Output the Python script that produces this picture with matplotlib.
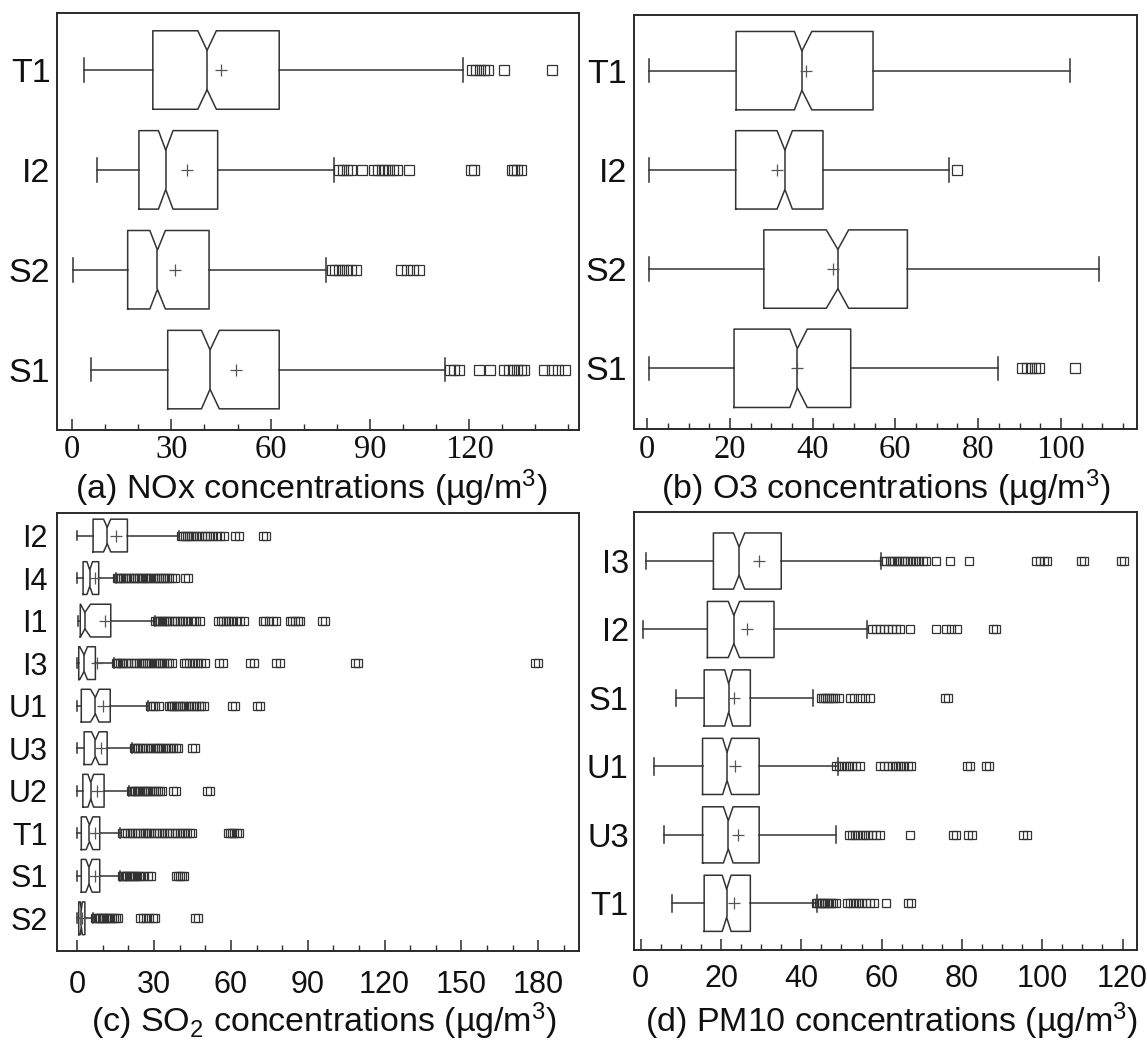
import matplotlib
matplotlib.use('Agg')
import matplotlib.pyplot as plt
from matplotlib.ticker import MultipleLocator

plt.rcParams['font.family'] = ['Liberation Sans', 'DejaVu Sans']
plt.rcParams['mathtext.fontset'] = 'custom'
plt.rcParams['mathtext.rm'] = 'Liberation Sans'
plt.rcParams['mathtext.it'] = 'Liberation Sans:italic'
plt.rcParams['mathtext.bf'] = 'Liberation Sans:bold'

# ---------------- (a) NOx ----------------
nox_sites = ['T1', 'I2', 'S2', 'S1']
nox_whislo = [3.5, 7.5, 0.3, 5.7]
nox_q1 = [24.4, 20.2, 16.8, 28.9]
nox_med = [40.8, 28.3, 25.8, 41.7]
nox_cilo = [38.0, 26.1, 23.5, 39.1]
nox_cihi = [43.6, 30.5, 28.2, 44.5]
nox_q3 = [62.6, 44.0, 41.4, 62.6]
nox_mean = [45.1, 34.7, 31.0, 49.6]
nox_whishi = [118.0, 79.2, 76.8, 112.8]
nox_fliers = [
    [121.0, 122.2, 123.4, 124.6, 125.7, 130.5, 145.1],
    [80.8, 82.0, 83.2, 84.2, 87.6, 91.4, 92.5, 93.6, 94.7, 95.8, 97.0, 98.2, 101.8,
     120.6, 121.6, 132.9, 133.6, 134.4, 135.6],
    [78.5, 79.6, 80.8, 82.0, 83.2, 84.4, 85.9, 99.5, 101.2, 103.0, 104.8],
    [114.1, 115.3, 116.9, 123.0, 126.4, 130.5, 132.0, 133.3, 134.5, 135.7, 136.5,
     142.6, 145.2, 147.0, 149.1],
]

# ---------------- (b) O3 ----------------
o3_sites = ['T1', 'I2', 'S2', 'S1']
o3_whislo = [0.35, 0.35, 0.35, 0.35]
o3_q1 = [21.5, 21.4, 28.2, 21.0]
o3_med = [37.4, 33.3, 46.1, 36.3]
o3_cilo = [35.6, 31.4, 43.3, 34.5]
o3_cihi = [39.8, 35.1, 48.7, 38.7]
o3_q3 = [54.6, 42.5, 62.9, 49.2]
o3_mean = [38.4, 31.3, 44.8, 36.3]
o3_whishi = [102.2, 73.0, 109.1, 84.9]
o3_fliers = [
    [],
    [74.9],
    [],
    [90.7, 91.8, 92.8, 93.8, 94.8, 103.3],
]

# ---------------- (c) SO2 ----------------
so2_sites = ['I2', 'I4', 'I1', 'I3', 'U1', 'U3', 'U2', 'T1', 'S1', 'S2']
so2_whislo = [0.0, 0.0, 0.4, 0.0, 0.0, 0.0, 0.0, 0.0, 0.0, 0.0]
so2_q1 = [6.2, 2.3, 1.2, 0.6, 1.6, 2.7, 2.2, 1.6, 1.6, 0.6]
so2_med = [11.7, 4.9, 3.0, 2.7, 7.1, 7.1, 5.3, 4.8, 4.6, 1.6]
so2_cilo = [10.3, 3.8, 1.3, 1.0, 5.2, 5.6, 4.2, 3.5, 3.4, 1.2]
so2_cihi = [13.1, 6.0, 5.2, 4.0, 8.5, 8.5, 6.4, 6.1, 5.8, 2.0]
so2_q3 = [19.6, 8.4, 13.1, 7.1, 12.9, 11.7, 10.5, 8.8, 8.8, 3.0]
so2_mean = [15.0, 7.1, 11.0, 7.6, 10.0, 9.1, 7.7, 6.9, 6.9, 1.8]
so2_whishi = [39.6, 15.0, 30.2, 14.3, 27.6, 21.4, 20.4, 16.8, 16.8, 6.2]
so2_fliers = [
    [40.5, 41.2, 42.0, 42.8, 43.5, 44.5, 45.3, 46.5, 47.5, 48.6, 49.8, 50.8, 52.0,
     53.2, 54.5, 55.6, 57.5, 61.6, 63.0, 72.4, 73.8],
    [15.5, 16.0, 16.6, 17.2, 17.8, 18.5, 19.5, 20.2, 21.0, 22.0, 22.6, 23.3, 24.0,
     24.8, 25.5, 26.3, 27.0, 27.8, 28.6, 29.5, 30.2, 31.0, 32.0, 32.7, 33.5, 34.3,
     35.0, 36.0, 37.0, 38.0, 42.2, 43.3],
    [30.5, 31.0, 31.6, 32.2, 33.0, 33.8, 34.5, 35.2, 36.0, 37.0, 38.0, 39.0, 40.0,
     41.0, 42.0, 43.0, 44.5, 45.5, 46.5, 48.0, 55.0, 56.0, 57.0, 58.0, 59.0, 60.0,
     61.0, 62.5, 63.5, 65.0, 72.5, 73.5, 75.0, 76.5, 77.5, 83.0, 84.0, 85.0, 86.0,
     87.0, 95.5, 96.8],
    [15.0, 15.5, 16.0, 16.7, 17.3, 18.0, 19.0, 20.0, 21.0, 22.0, 23.0, 24.0, 25.0,
     25.8, 26.6, 27.4, 28.2, 29.0, 29.8, 30.6, 31.4, 32.2, 33.0, 34.0, 35.0, 36.0,
     37.0, 41.5, 42.5, 43.5, 45.0, 46.0, 47.0, 48.5, 50.0, 55.5, 56.8, 67.6, 68.9,
     77.7, 79.0, 108.5, 109.8, 178.6, 179.9],
    [28.5, 29.5, 30.5, 32.0, 36.0, 36.6, 37.2, 37.8, 38.5, 39.2, 40.0, 40.8, 41.5,
     42.5, 43.5, 44.5, 45.5, 46.5, 47.5, 48.5, 49.5, 60.4, 61.7, 70.0, 71.3],
    [22.0, 22.6, 23.2, 23.8, 24.5, 25.5, 26.5, 27.5, 28.5, 29.5, 30.3, 31.0, 31.8,
     32.6, 33.5, 34.5, 35.5, 36.5, 37.5, 38.5, 39.5, 44.7, 46.0],
    [21.0, 21.5, 22.0, 22.6, 23.2, 23.8, 24.5, 25.2, 26.0, 26.6, 27.2, 27.8, 28.5,
     29.2, 30.0, 30.8, 31.5, 32.3, 33.0, 37.3, 38.6, 50.5, 51.8],
    [17.5, 18.5, 19.5, 20.5, 21.5, 22.5, 23.5, 24.5, 25.5, 26.5, 27.3, 28.0, 29.0,
     30.0, 31.0, 32.0, 33.0, 34.0, 35.0, 36.0, 37.0, 38.0, 39.0, 40.0, 41.0, 42.0,
     43.0, 44.0, 45.0, 59.0, 59.8, 60.6, 61.4, 62.2, 63.0],
    [17.5, 18.0, 18.5, 19.0, 19.6, 20.2, 20.8, 21.4, 22.0, 22.6, 23.2, 24.0, 25.0,
     26.0, 27.5, 29.0, 38.5, 39.2, 40.0, 40.8, 41.6],
    [7.0, 7.5, 8.0, 8.5, 9.0, 9.5, 10.0, 10.6, 11.2, 11.8, 12.4, 13.0, 13.6, 14.3,
     15.0, 15.8, 24.5, 25.5, 27.0, 28.0, 29.5, 30.5, 46.0, 47.3],
]

# ---------------- (d) PM10 ----------------
pm_sites = ['I3', 'I2', 'S1', 'U1', 'U3', 'T1']
pm_whislo = [1.3, 0.6, 8.9, 3.2, 5.9, 7.8]
pm_q1 = [18.1, 16.6, 15.8, 15.4, 15.4, 15.8]
pm_med = [24.5, 23.2, 21.9, 21.5, 21.8, 21.4]
pm_cilo = [23.1, 21.8, 20.9, 20.4, 20.6, 20.3]
pm_cihi = [25.9, 24.6, 22.9, 22.6, 23.0, 22.5]
pm_q3 = [35.0, 33.2, 27.3, 29.5, 29.5, 27.3]
pm_mean = [29.4, 26.5, 23.3, 23.6, 24.3, 23.3]
pm_whishi = [59.9, 56.3, 43.0, 49.2, 48.6, 43.9]
pm_fliers = [
    [60.5, 61.2, 62.0, 62.6, 63.2, 63.8, 64.4, 65.0, 65.6, 66.3, 67.0, 67.8, 68.6,
     69.4, 70.2, 71.0, 73.6, 77.0, 81.7, 98.5, 99.5, 100.5, 101.3, 109.6, 110.5,
     119.6, 120.4],
    [57.5, 58.5, 59.5, 60.5, 61.5, 62.5, 63.5, 64.5, 67.0, 73.6, 76.0, 77.3, 78.8,
     87.8, 88.6],
    [44.8, 45.3, 45.8, 46.3, 46.8, 47.3, 47.8, 48.5, 49.3, 52.0, 53.2, 54.5, 55.8,
     57.0, 75.7, 76.5],
    [48.7, 49.4, 50.2, 51.0, 51.8, 52.6, 53.6, 54.5, 59.5, 60.5, 61.5, 62.5, 63.3,
     64.0, 64.8, 65.6, 66.5, 67.3, 81.3, 82.1, 86.0, 86.8],
    [51.8, 52.6, 53.4, 54.2, 55.0, 55.8, 56.6, 57.5, 58.5, 59.6, 67.0, 77.8, 78.6,
     81.6, 82.4, 95.3, 96.1],
    [43.6, 44.0, 44.4, 44.8, 45.2, 45.6, 46.0, 46.5, 47.0, 47.5, 48.0, 48.6, 51.3,
     52.0, 52.8, 53.6, 54.4, 55.2, 56.0, 57.0, 58.0, 61.0, 66.6, 67.4],
]

# ---------------- axis settings ----------------
nox_ticks = [0, 30, 60, 90, 120]
o3_ticks = [0, 20, 40, 60, 80, 100]
so2_ticks = [0, 30, 60, 90, 120, 150, 180]
pm_ticks = [0, 20, 40, 60, 80, 100, 120]

W, H = 1147, 1041
fig = plt.figure(figsize=(W / 100, H / 100), dpi=100)
fig.patch.set_facecolor('white')

LC = '#333333'
SC = '#2a2a2a'


def ax_px(left, top, right, bottom):
    return fig.add_axes([left / W, 1 - bottom / H, (right - left) / W, (bottom - top) / H])


def draw(ax, sites, wlo, q1, med, cilo, cihi, q3, mean, whi, fliers,
         width, msize, mean_size):
    n = len(sites)
    positions = list(range(n, 0, -1))
    stats = []
    for i in range(n):
        stats.append(dict(label=sites[i], whislo=wlo[i], q1=q1[i], med=med[i],
                          cilo=cilo[i], cihi=cihi[i], q3=q3[i], mean=mean[i],
                          whishi=whi[i], fliers=fliers[i]))
    lw = 1.1
    ax.bxp(stats, positions=positions, widths=width, capwidths=width * 0.3,
           orientation='horizontal', shownotches=True, showmeans=True,
           boxprops=dict(color=LC, lw=lw),
           whiskerprops=dict(color=LC, lw=lw),
           capprops=dict(color=LC, lw=lw),
           medianprops=dict(color=LC, lw=lw),
           meanprops=dict(marker='+', markeredgecolor='#555555',
                          markersize=mean_size, markeredgewidth=0.9),
           flierprops=dict(marker='s', markerfacecolor='none',
                           markeredgecolor=LC, markersize=msize,
                           markeredgewidth=0.9, linestyle='none'),
           manage_ticks=False)
    ax.set_yticks(positions)
    ax.set_yticklabels(sites)
    for sp in ax.spines.values():
        sp.set_color(SC)
        sp.set_linewidth(1.4)


def style_x(ax, ticks, minor, xlim, ylim, serif, labsize, pad, ylabsize, ypad):
    ax.set_xlim(*xlim)
    ax.set_ylim(*ylim)
    ax.set_xticks(ticks)
    if serif:
        ax.set_xticklabels([str(t) for t in ticks], fontfamily='Liberation Serif')
    else:
        ax.set_xticklabels([str(t) for t in ticks])
    ax.xaxis.set_minor_locator(MultipleLocator(minor))
    ax.tick_params(axis='x', which='major', direction='in', length=8, width=1.1,
                   color=SC, labelsize=labsize, pad=pad, labelcolor='#111111')
    ax.tick_params(axis='x', which='minor', direction='in', length=4, width=1.0,
                   color=SC)
    ax.tick_params(axis='y', which='both', length=0, labelsize=ylabsize, pad=ypad,
                   labelcolor='#111111')
    ax.tick_params(top=False, right=False)


# (a)
axa = ax_px(56.7, 13.3, 579.3, 430)
draw(axa, nox_sites, nox_whislo, nox_q1, nox_med, nox_cilo, nox_cihi, nox_q3,
     nox_mean, nox_whishi, nox_fliers, 0.786, 6.5, 9)
style_x(axa, nox_ticks, 10, (-4.65, 153.3), (0.395, 4.568), True, 23.5, 3.5, 24.5, 4.5)

# (b)
axb = ax_px(633.5, 15, 1137, 429.3)
draw(axb, o3_sites, o3_whislo, o3_q1, o3_med, o3_cilo, o3_cihi, o3_q3,
     o3_mean, o3_whishi, o3_fliers, 0.79, 6.5, 9)
style_x(axb, o3_ticks, 5, (-3.3, 118.4), (0.385, 4.561), True, 23.5, 3.5, 24.5, 4.5)

# (c)
axc = ax_px(56.7, 512.7, 579.3, 950.7)
draw(axc, so2_sites, so2_whislo, so2_q1, so2_med, so2_cilo, so2_cihi, so2_q3,
     so2_mean, so2_whishi, so2_fliers, 0.77, 5.2, 8)
style_x(axc, so2_ticks, 10, (-8.0, 196.0), (0.238, 10.537), False, 22, 14, 22, 6.5)

# (d)
axd = ax_px(633.5, 512.3, 1137, 950)
draw(axd, pm_sites, pm_whislo, pm_q1, pm_med, pm_cilo, pm_cihi, pm_q3,
     pm_mean, pm_whishi, pm_fliers, 0.82, 5.5, 8)
style_x(axd, pm_ticks, 5, (-1.8, 123.6), (0.318, 6.712), False, 22, 10, 23.5, 3.5)

# x labels
lab_a = r'(a) NOx concentrations (µg/m$^3$)'
lab_b = r'(b) O3 concentrations (µg/m$^3$)'
lab_c = r'(c) SO$_2$ concentrations (µg/m$^3$)'
lab_d = r'(d) PM10 concentrations (µg/m$^3$)'
fig.text(311.5 / W, 1 - 488 / H, lab_a, ha='center', va='center', fontsize=24.5, color='#111111')
fig.text(885.6 / W, 1 - 488 / H, lab_b, ha='center', va='center', fontsize=24.5, color='#111111')
fig.text(323.5 / W, 1 - 1021 / H, lab_c, ha='center', va='center', fontsize=24.5, color='#111111')
fig.text(892.0 / W, 1 - 1021 / H, lab_d, ha='center', va='center', fontsize=24.5, color='#111111')

fig.savefig('out.png', dpi=100)
